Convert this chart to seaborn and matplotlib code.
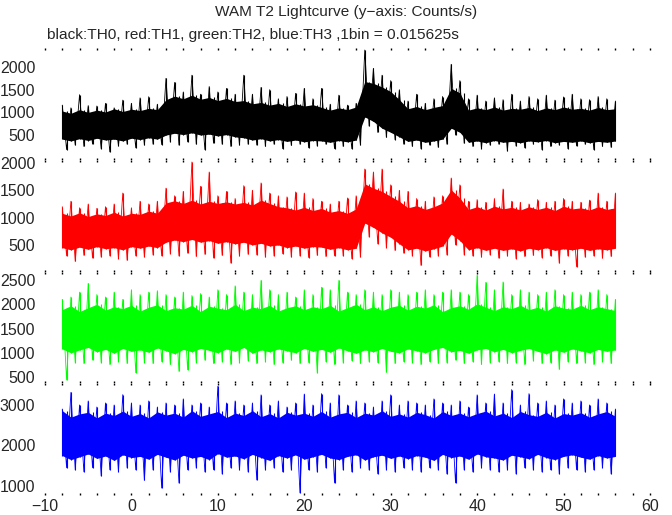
import numpy as np
import pandas as pd
import matplotlib
matplotlib.use('Agg')
import matplotlib.pyplot as plt
import seaborn as sns
from matplotlib.ticker import MultipleLocator

# values on a 1 s grid (t = -8 .. 56)
TIME = list(range(-8, 57))
HALF = [t + 0.5 for t in TIME[:-1]]

# TH0 (black): dense band edges, upward spikes at t, downward spikes at t+0.5
TH0_CORE_HI = [1030, 980, 1060, 1000, 1050, 1010, 1080, 1020, 1070, 1040,
               1090, 1060, 1280, 1360, 1300, 1380, 1290, 1330, 1260, 1310,
               1240, 1260, 1190, 1220, 1160, 1200, 1130, 1190, 1140, 1170,
               1110, 1050, 1100, 1060, 1120, 1680, 1640, 1560, 1460, 1280,
               1080, 1130, 1060, 1110, 1150, 1530, 1430, 1050, 1100, 1060,
               1120, 1050, 1090, 1070, 1110, 1040, 1100, 1060, 1120, 1070,
               1090, 1050, 1110, 1060, 1080]
TH0_CORE_LO = [410, 370, 420, 380, 430, 390, 410, 370, 430, 400,
               440, 410, 500, 540, 510, 550, 500, 520, 480, 510,
               460, 440, 390, 420, 370, 400, 360, 390, 350, 380,
               370, 340, 380, 350, 390, 900, 800, 650, 560, 460,
               360, 390, 340, 370, 410, 650, 560, 340, 370, 330,
               380, 340, 360, 330, 370, 350, 380, 330, 360, 340,
               370, 330, 360, 340, 370]
TH0_PEAK_HI = [1160, 1100, 1390, 1150, 1140, 1200, 1100, 1270, 1200, 1320,
               1345, 1180, 1750, 1660, 1450, 1820, 1400, 1570, 1450, 1530,
               1400, 1820, 1400, 1550, 1500, 1300, 1350, 1420, 1530, 1300,
               1530, 1180, 1380, 1160, 1200, 2375, 1970, 1820, 1700, 1500,
               1250, 1400, 1200, 1300, 1350, 2060, 1700, 1300, 1380, 1250,
               1320, 1280, 1400, 1250, 1350, 1300, 1380, 1270, 1340, 1400,
               1300, 1280, 1350, 1300, 1250]
TH0_PEAK_LO = [180, 280, 250, 300, 200, 130, 260, 300, 220, 280,
               300, 290, 350, 280, 350, 300, 180, 320, 300, 250,
               280, 300, 280, 250, 300, 200, 270, 300, 220, 260,
               300, 200, 250, 200, 280, 700, 560, 450, 400, 300,
               250, 200, 280, 230, 300, 500, 320, 250, 200, 280,
               300, 150, 260, 220, 300, 180, 250, 280, 200, 260,
               300, 180, 250, 230]

# TH1 (red)
TH1_CORE_HI = [1080, 1030, 1090, 1020, 1070, 1040, 1100, 1030, 1080, 1060,
               1120, 1080, 1270, 1310, 1260, 1320, 1250, 1300, 1260, 1290,
               1250, 1280, 1230, 1320, 1260, 1200, 1180, 1140, 1190, 1130,
               1170, 1100, 1130, 1080, 1160, 1620, 1540, 1480, 1390, 1300,
               1180, 1220, 1150, 1200, 1270, 1510, 1360, 1150, 1200, 1140,
               1210, 1160, 1190, 1140, 1200, 1150, 1190, 1130, 1210, 1160,
               1180, 1140, 1200, 1150, 1180]
TH1_CORE_LO = [450, 410, 460, 420, 470, 430, 450, 410, 470, 440,
               480, 450, 550, 590, 560, 600, 550, 580, 530, 560,
               520, 550, 500, 530, 480, 500, 450, 480, 440, 470,
               460, 420, 450, 410, 440, 900, 820, 720, 640, 520,
               410, 440, 390, 430, 480, 700, 580, 410, 450, 400,
               440, 400, 430, 390, 440, 410, 450, 400, 430, 410,
               440, 400, 430, 410, 440]
TH1_PEAK_HI = [1200, 1300, 1180, 1250, 1170, 1200, 1250, 1450, 1180, 1300,
               1250, 1300, 1540, 1400, 1480, 2018, 1573, 1835, 1400, 1480,
               1350, 1585, 1500, 1635, 1450, 1400, 1380, 1470, 1450, 1350,
               1300, 1250, 1300, 1360, 1400, 1890, 1835, 1890, 1600, 1500,
               1480, 1350, 1300, 1380, 1400, 1725, 1600, 1300, 1330, 1280,
               1350, 1524, 1300, 1280, 1250, 1330, 1280, 1300, 1350, 1300,
               1280, 1320, 1450, 1300, 1450]
TH1_PEAK_LO = [300, 200, 310, 260, 280, 300, 250, 220, 300, 280,
               320, 300, 340, 300, 350, 290, 330, 260, 310, 170,
               300, 330, 320, 280, 300, 340, 280, 300, 270, 310,
               290, 300, 300, 250, 280, 650, 520, 450, 400, 350,
               300, 127, 280, 300, 320, 500, 320, 300, 280, 320,
               260, 300, 250, 290, 310, 270, 300, 170, 300, 100,
               280, 300, 260, 290]

# TH2 (green)
TH2_CORE_HI = [1890, 1970, 1850, 1930, 2000, 1880, 1950, 1910, 1980, 1860,
               1940, 1990, 1870, 1930, 1900, 1980, 1850, 1960, 1920, 1890,
               2000, 1870, 1940, 1910, 1980, 1860, 1930, 1970, 1890, 1950,
               1910, 1980, 1860, 1930, 2000, 1890, 1950, 1870, 1940, 1980,
               1880, 1960, 1920, 1990, 1850, 1930, 1970, 1900, 2010, 1940,
               1870, 1950, 1910, 1980, 1890, 1940, 1860, 1970, 1920, 1900,
               1980, 1890, 1950, 1910, 1870]
TH2_CORE_LO = [1080, 1000, 1060, 1110, 1020, 1070, 990, 1090, 1030, 1060,
               1010, 1100, 1040, 980, 1070, 1020, 1090, 1050, 1000, 1080,
               1030, 1110, 990, 1060, 1020, 1080, 1040, 1000, 1090, 1030,
               1070, 1010, 1100, 1040, 990, 1060, 1020, 1090, 1030, 1000,
               1080, 1040, 1000, 1070, 1110, 1020, 1050, 990, 1060, 1090,
               1020, 1070, 1000, 1050, 1090, 1030, 980, 1060, 1010, 1080,
               1040, 1000, 1070, 1030, 1060]
TH2_PEAK_HI = [2100, 2150, 2250, 2430, 2200, 2150, 2250, 2100, 2300, 2200,
               2250, 2280, 2200, 2150, 2250, 2180, 2220, 2150, 2300, 2200,
               2380, 2250, 2200, 2490, 2300, 2200, 2250, 2150, 2300, 2200,
               2350, 2300, 2490, 2250, 2200, 2300, 2250, 2200, 2300, 2250,
               2200, 2250, 2300, 2200, 2250, 2300, 2250, 2200, 2600, 2450,
               2300, 2460, 2200, 2300, 2250, 2200, 2250, 2300, 2200, 2250,
               2200, 2250, 2300, 2200, 2100]
TH2_PEAK_LO = [440, 800, 780, 850, 800, 760, 820, 780, 590, 800,
               780, 820, 760, 620, 650, 800, 850, 780, 820, 760,
               800, 840, 780, 820, 760, 800, 850, 780, 800, 590,
               820, 760, 800, 840, 780, 820, 800, 600, 780, 820,
               800, 760, 820, 780, 800, 850, 780, 820, 760, 800,
               820, 780, 800, 760, 840, 780, 800, 660, 820, 780,
               800, 760, 820, 780]

# TH3 (blue)
TH3_CORE_HI = [2860, 2700, 2780, 2820, 2680, 2800, 2740, 2850, 2720, 2790,
               2680, 2830, 2750, 2800, 2700, 2860, 2720, 2780, 2840, 2690,
               2800, 2740, 2860, 2710, 2790, 2680, 2820, 2750, 2800, 2720,
               2840, 2700, 2780, 2820, 2690, 2800, 2750, 2860, 2720, 2780,
               2700, 2820, 2760, 2680, 2840, 2740, 2800, 2710, 2790, 2850,
               2730, 2800, 2690, 2840, 2760, 2720, 2820, 2680, 2790, 2750,
               2810, 2700, 2780, 2840, 2720]
TH3_CORE_LO = [1750, 1650, 1720, 1790, 1680, 1740, 1630, 1770, 1700, 1730,
               1660, 1780, 1710, 1640, 1760, 1690, 1730, 1650, 1800, 1710,
               1740, 1670, 1780, 1700, 1630, 1750, 1690, 1770, 1660, 1720,
               1780, 1690, 1650, 1730, 1770, 1640, 1720, 1760, 1680, 1740,
               1670, 1750, 1710, 1630, 1780, 1700, 1740, 1660, 1790, 1720,
               1690, 1640, 1760, 1720, 1670, 1780, 1700, 1650, 1730, 1770,
               1710, 1660, 1750, 1690, 1730]
TH3_PEAK_HI = [2900, 3310, 3000, 3100, 2950, 3050, 3000, 3255, 3050, 3000,
               3100, 2950, 3050, 3000, 3150, 3000, 3050, 2950, 3460, 3050,
               3100, 3000, 3050, 3250, 3000, 3100, 2950, 3050, 3270, 3000,
               3280, 3050, 3250, 3000, 3100, 3050, 2950, 3100, 3250, 3000,
               3100, 3050, 3000, 3150, 3050, 3000, 3100, 2950, 3250, 3050,
               3270, 3050, 3380, 3000, 3280, 3050, 3100, 3000, 3150, 3050,
               3100, 3000, 3150, 3050, 2900]
TH3_PEAK_LO = [1450, 1400, 1350, 1450, 1250, 1400, 1350, 1450, 1400, 1140,
               1400, 950, 1350, 1075, 1400, 1450, 1350, 1400, 1300, 1450,
               1400, 1350, 1150, 1400, 1450, 1350, 1400, 830, 1400, 1350,
               1450, 1075, 1400, 1350, 1450, 1400, 1300, 1400, 1350, 1450,
               1400, 1350, 1450, 1400, 1300, 1075, 1400, 1350, 1450, 1400,
               1350, 1400, 1300, 1450, 1400, 1350, 1400, 1300, 1450, 1400,
               1350, 1400, 1450, 1300]

CHANNELS = ['TH0', 'TH1', 'TH2', 'TH3']
YTICKS = [[500, 1000, 1500, 2000],
          [500, 1000, 1500, 2000],
          [500, 1000, 1500, 2000, 2500],
          [1000, 2000, 3000]]
XTICKS = [-10, 0, 10, 20, 30, 40, 50, 60]

TITLE = 'WAM T2 Lightcurve (y\u2212axis: Counts/s)'
SUBTITLE = 'black:TH0, red:TH1, green:TH2, blue:TH3 ,1bin = 0.015625s'

series = {
    'TH0': (TH0_CORE_HI, TH0_CORE_LO, TH0_PEAK_HI, TH0_PEAK_LO),
    'TH1': (TH1_CORE_HI, TH1_CORE_LO, TH1_PEAK_HI, TH1_PEAK_LO),
    'TH2': (TH2_CORE_HI, TH2_CORE_LO, TH2_PEAK_HI, TH2_PEAK_LO),
    'TH3': (TH3_CORE_HI, TH3_CORE_LO, TH3_PEAK_HI, TH3_PEAK_LO),
}
colors = {'TH0': '#000000', 'TH1': '#ff0000', 'TH2': '#00ff00', 'TH3': '#0000ff'}
ylims = {'TH0': (-50, 2420), 'TH1': (5, 2055), 'TH2': (378, 2665), 'TH3': (777, 3543)}


def spikes(peak_hi, peak_lo):
    """Alternate the upward and downward excursions into one trace."""
    xs, ys = [], []
    for i, t in enumerate(TIME):
        xs.append(t)
        ys.append(peak_hi[i])
        if i < len(peak_lo):
            xs.append(HALF[i])
            ys.append(peak_lo[i])
    return pd.DataFrame({'t': xs, 'counts': ys})


sns.set_style('white')
plt.rcParams['font.family'] = ['Liberation Sans', 'DejaVu Sans']
plt.rcParams['font.size'] = 11

fig = plt.figure(figsize=(6.72, 5.15), dpi=100)
W, H = 672.0, 515.0
left, right = 45 / W, 650 / W
edges = [48, 160, 272, 383, 495]

for k, ch in enumerate(CHANNELS):
    top, bot = edges[k], edges[k + 1]
    ax = fig.add_axes([left, 1 - bot / H, right - left, (bot - top) / H])
    hi, lo, phi, plo = series[ch]
    c = colors[ch]

    # dense body of the light curve
    ax.fill_between(TIME, lo, hi, color=c, lw=0)
    # noisy trace through the single-bin excursions
    sns.lineplot(data=spikes(phi, plo), x='t', y='counts', color=c, lw=0.6,
                 estimator=None, sort=False, ax=ax)
    ax.vlines(TIME, lo, phi, color=c, lw=0.8)
    ax.vlines(HALF, plo, hi[:-1], color=c, lw=0.8)

    ax.set_xlim(-10, 60)
    ax.set_ylim(*ylims[ch])
    ax.set_yticks(YTICKS[k])
    ax.set_xlabel('')
    ax.set_ylabel('')
    for sp in ax.spines.values():
        sp.set_visible(False)
    ax.tick_params(axis='y', length=0, pad=7, labelsize=11.5)
    ax.xaxis.set_major_locator(MultipleLocator(10))
    ax.xaxis.set_minor_locator(MultipleLocator(2))
    ax.tick_params(axis='x', which='both', direction='in', length=1.5, width=1,
                   top=True, bottom=True, color='black')
    if k < 3:
        ax.tick_params(axis='x', labelbottom=False)
    else:
        ax.set_xticks(XTICKS)
        ax.tick_params(axis='x', pad=3, labelsize=11.5)

fig.text(346 / W, 1 - 12 / H, TITLE, ha='center', va='center', fontsize=11.1)
fig.text(47 / W, 1 - 35 / H, SUBTITLE, ha='left', va='center', fontsize=11.1)

fig.savefig('out.png', dpi=100)
